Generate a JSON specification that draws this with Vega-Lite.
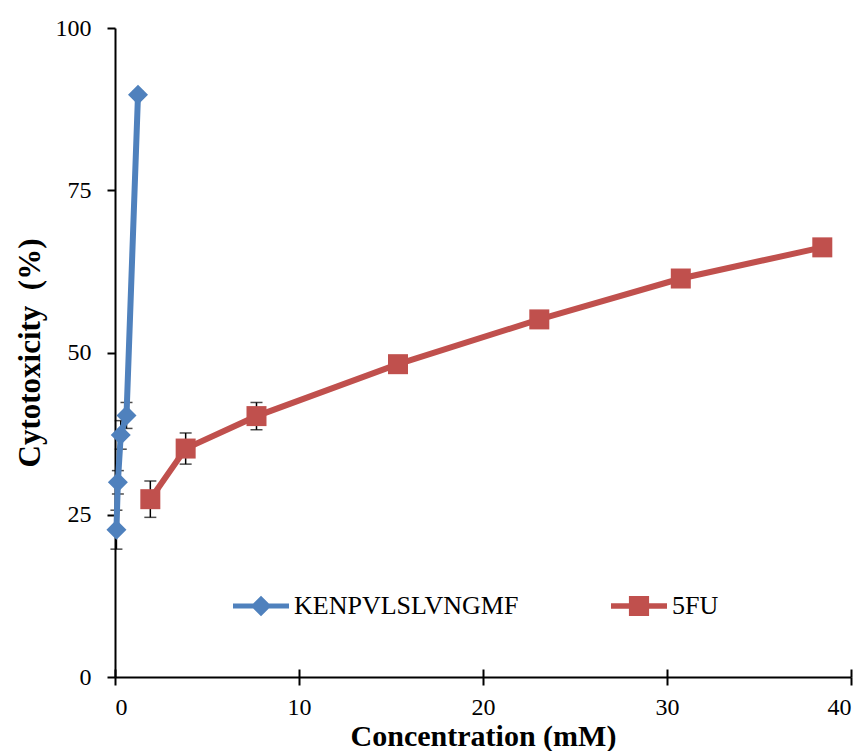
{
  "$schema": "https://vega.github.io/schema/vega-lite/v6.json",
  "width": 736,
  "height": 649,
  "autosize": {"type": "none"},
  "padding": {"left": 115, "top": 28, "right": 16, "bottom": 74},
  "background": "white",
  "config": {
    "view": {"stroke": null},
    "font": "Liberation Serif",
    "axis": {
      "domainColor": "black",
      "domainWidth": 2,
      "tickColor": "black",
      "tickWidth": 2,
      "tickSize": 8,
      "grid": false,
      "labelFont": "Liberation Serif",
      "labelFontSize": 24,
      "labelColor": "black",
      "titleFont": "Liberation Serif",
      "titleFontSize": 31,
      "titleFontWeight": "bold",
      "titleColor": "black"
    },
    "legend": {
      "symbolStrokeWidth": 0,
      "labelFont": "Liberation Serif",
      "labelFontSize": 26,
      "labelColor": "black",
      "labelLimit": 500,
      "labelOffset": 5
    }
  },
  "data": {
    "values": [
      {"series": "KENPVLSLVNGMF", "conc": 0.078, "cyt": 22.7, "lo": 19.7, "hi": 25.7},
      {"series": "KENPVLSLVNGMF", "conc": 0.156, "cyt": 30.0, "lo": 28.2, "hi": 31.8},
      {"series": "KENPVLSLVNGMF", "conc": 0.3125, "cyt": 37.3, "lo": 35.1, "hi": 39.5},
      {"series": "KENPVLSLVNGMF", "conc": 0.625, "cyt": 40.3, "lo": 38.3, "hi": 42.3},
      {"series": "KENPVLSLVNGMF", "conc": 1.25, "cyt": 89.7, "lo": 89.2, "hi": 90.2},
      {"series": "5FU", "conc": 1.92, "cyt": 27.4, "lo": 24.6, "hi": 30.2},
      {"series": "5FU", "conc": 3.84, "cyt": 35.2, "lo": 32.8, "hi": 37.6},
      {"series": "5FU", "conc": 7.69, "cyt": 40.2, "lo": 38.1, "hi": 42.3},
      {"series": "5FU", "conc": 15.38, "cyt": 48.2, "lo": 47.4, "hi": 49.0},
      {"series": "5FU", "conc": 23.06, "cyt": 55.1, "lo": 54.3, "hi": 55.9},
      {"series": "5FU", "conc": 30.75, "cyt": 61.4, "lo": 60.6, "hi": 62.2},
      {"series": "5FU", "conc": 38.44, "cyt": 66.2, "lo": 65.4, "hi": 67.0}
    ]
  },
  "resolve": {
    "axis": {"x": "independent"},
    "scale": {"color": "independent", "shape": "independent"},
    "legend": {"color": "independent", "shape": "independent"}
  },
  "layer": [
    {
      "mark": {"type": "errorbar", "color": "black", "thickness": 1.5, "ticks": {"size": 12}},
      "encoding": {
        "x": {
          "field": "conc", "type": "quantitative",
          "scale": {"domain": [0, 40], "nice": false},
          "axis": {"orient": "bottom", "values": [0, 10, 20, 30, 40], "title": "Concentration (mM)", "labelPadding": 10, "titlePadding": 2, "titleFontSize": 30}
        },
        "y": {
          "field": "lo", "type": "quantitative",
          "scale": {"domain": [0, 100], "nice": false},
          "axis": {"values": [0, 25, 50, 75, 100], "title": "Cytotoxicity\u00a0 (%)", "labelPadding": 16, "titlePadding": 9}
        },
        "y2": {"field": "hi"}
      }
    },
    {
      "transform": [{"filter": "datum.conc < 0"}],
      "mark": {"type": "rule"},
      "encoding": {
        "x": {
          "field": "conc", "type": "quantitative",
          "axis": {"orient": "bottom", "values": [0, 10, 20, 30, 40], "tickSize": -8, "labels": false, "domain": false, "title": null}
        }
      }
    },
    {
      "mark": {"type": "line", "strokeWidth": 6},
      "encoding": {
        "x": {"field": "conc", "type": "quantitative", "axis": null},
        "y": {"field": "cyt", "type": "quantitative", "title": "Cytotoxicity\u00a0 (%)"},
        "color": {
          "field": "series", "type": "nominal",
          "scale": {"domain": ["KENPVLSLVNGMF", "5FU"], "range": ["#4F81BD", "#C0504D"]},
          "legend": null
        }
      }
    },
    {
      "transform": [{"filter": "datum.series === 'KENPVLSLVNGMF'"}],
      "mark": {"type": "point", "filled": true, "size": 400, "opacity": 1, "shape": "diamond"},
      "encoding": {
        "x": {"field": "conc", "type": "quantitative", "axis": null},
        "y": {"field": "cyt", "type": "quantitative", "title": "Cytotoxicity\u00a0 (%)"},
        "color": {
          "field": "series", "type": "nominal",
          "scale": {"domain": ["KENPVLSLVNGMF", "5FU"], "range": ["#4F81BD", "#C0504D"]},
          "legend": null
        }
      }
    },
    {
      "transform": [{"filter": "datum.series === '5FU'"}],
      "mark": {"type": "point", "filled": true, "size": 400, "opacity": 1, "shape": "square"},
      "encoding": {
        "x": {"field": "conc", "type": "quantitative", "axis": null},
        "y": {"field": "cyt", "type": "quantitative", "title": "Cytotoxicity\u00a0 (%)"},
        "color": {
          "field": "series", "type": "nominal",
          "scale": {"domain": ["KENPVLSLVNGMF", "5FU"], "range": ["#4F81BD", "#C0504D"]},
          "legend": null
        }
      }
    },
    {
      "transform": [{"filter": "datum.conc < 0"}],
      "mark": {"type": "point", "filled": true, "opacity": 1},
      "encoding": {
        "x": {"field": "conc", "type": "quantitative", "axis": null},
        "y": {"field": "cyt", "type": "quantitative", "title": "Cytotoxicity\u00a0 (%)"},
        "color": {
          "field": "series", "type": "nominal",
          "scale": {"domain": ["KENPVLSLVNGMF", "5FU"], "range": ["#4F81BD", "#C0504D"]},
          "legend": {"title": null, "orient": "none", "direction": "horizontal", "legendX": 118, "legendY": 550, "symbolSize": 3136, "columnPadding": 92}
        },
        "shape": {
          "field": "series", "type": "nominal",
          "scale": {
            "domain": ["KENPVLSLVNGMF", "5FU"],
            "range": [
              "M-1,-0.09L1,-0.09L1,0.09L-1,0.09Z M0,-0.37L0.37,0L0,0.37L-0.37,0Z",
              "M-1,-0.1L1,-0.1L1,0.1L-1,0.1Z M-0.36,-0.36L0.36,-0.36L0.36,0.36L-0.36,0.36Z"
            ]
          },
          "legend": {"title": null, "orient": "none", "direction": "horizontal", "legendX": 118, "legendY": 550, "symbolSize": 3136, "columnPadding": 92}
        }
      }
    }
  ]
}
